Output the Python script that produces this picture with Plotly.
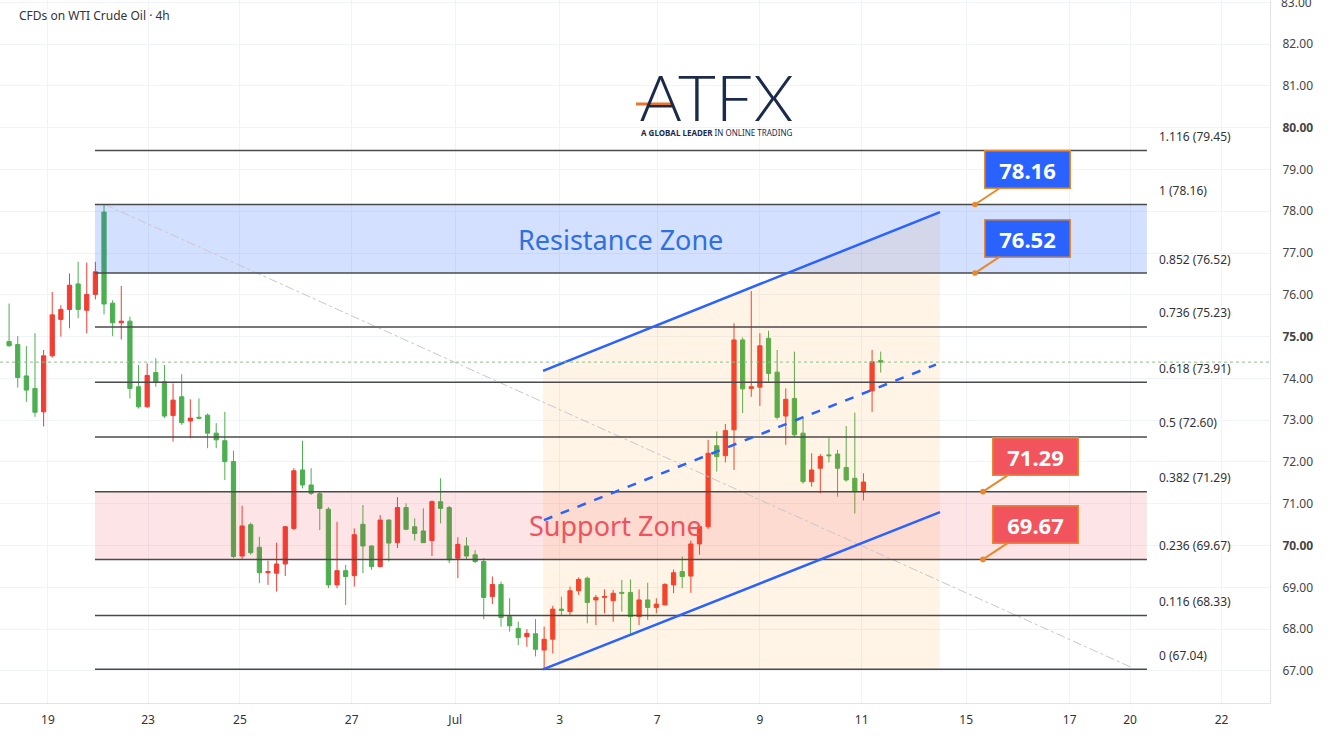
import plotly.graph_objects as go

# ---------------- data ----------------
opens = [74.88, 74.81, 74.06, 73.76, 73.20, 74.54, 75.41, 75.65, 76.26, 75.63,
         76.01, 77.98, 75.80, 75.33, 75.37, 73.80, 73.32, 74.14, 73.92, 73.11,
         73.56, 72.98, 73.07, 73.12, 72.69, 72.51, 72.01, 69.75, 70.50, 69.96,
         69.35, 69.34, 69.56, 70.41, 71.81, 71.45, 71.24, 70.87, 69.06, 69.40,
         69.28, 70.51, 69.99, 69.50, 70.61, 70.07, 70.91, 70.45, 70.35, 70.12,
         71.05, 70.91, 69.70, 69.99, 69.78, 69.62, 68.78, 69.07, 68.30, 68.02,
         67.82, 67.89, 67.50, 67.76, 68.48, 68.42, 68.92, 69.22, 68.70, 68.76,
         68.68, 68.88, 68.88, 68.30, 68.70, 68.52, 68.58, 69.06, 69.38, 69.27,
         70.04, 70.45, 72.39, 72.15, 72.77, 74.92, 73.76, 73.79, 74.96, 74.15,
         73.10, 73.52, 72.69, 71.53, 71.85, 72.17, 72.19, 71.87, 71.61, 71.29,
         73.70, 74.43]
highs = [75.79, 75.01, 74.77, 75.08, 74.68, 76.07, 75.75, 76.51, 76.79, 76.77,
         76.79, 78.16, 75.87, 76.21, 75.48, 74.32, 74.36, 74.48, 74.32, 73.88,
         74.10, 73.50, 73.52, 73.16, 72.93, 73.20, 72.27, 70.95, 70.55, 70.21,
         69.64, 70.07, 70.47, 71.85, 72.51, 71.85, 71.29, 70.92, 70.57, 69.54,
         70.41, 70.97, 70.01, 70.73, 70.63, 71.16, 71.01, 70.65, 70.89, 71.08,
         71.61, 70.95, 70.20, 70.20, 69.89, 69.70, 69.26, 69.14, 68.74, 68.18,
         68.00, 68.24, 68.06, 68.56, 68.78, 69.02, 69.24, 69.26, 68.82, 68.95,
         68.94, 69.18, 69.19, 68.95, 69.11, 68.74, 69.10, 69.43, 69.74, 70.12,
         70.49, 72.53, 72.73, 72.91, 75.32, 74.98, 76.09, 75.08, 75.14, 74.68,
         73.76, 74.64, 73.09, 72.21, 72.19, 72.57, 72.29, 72.86, 73.18, 71.73,
         74.68, 74.64]
lows = [74.76, 73.78, 73.44, 73.08, 72.85, 74.50, 75.00, 75.20, 75.44, 75.08,
        75.89, 75.53, 75.01, 74.93, 73.52, 73.28, 73.30, 73.80, 73.05, 72.49,
        72.89, 72.57, 73.02, 72.33, 72.33, 71.57, 69.70, 69.66, 69.78, 69.10,
        69.06, 68.90, 69.27, 70.37, 71.37, 71.21, 70.37, 68.98, 68.98, 68.58,
        69.02, 69.34, 69.42, 69.48, 69.62, 69.94, 70.37, 70.12, 70.07, 69.75,
        70.53, 69.58, 69.22, 69.66, 69.58, 68.24, 68.60, 68.06, 67.94, 67.62,
        67.58, 67.35, 67.04, 67.42, 68.34, 68.34, 68.82, 68.14, 68.10, 68.38,
        68.18, 68.42, 67.89, 68.10, 68.22, 68.38, 68.58, 68.86, 68.98, 68.87,
        69.78, 70.40, 71.77, 71.99, 71.81, 73.17, 73.56, 73.34, 73.92, 73.02,
        72.41, 72.60, 71.48, 71.41, 71.25, 71.99, 71.17, 71.53, 70.77, 71.08,
        73.20, 74.14]
closes = [74.78, 74.02, 73.72, 73.19, 74.54, 75.52, 75.65, 76.23, 75.65, 76.01,
          76.55, 75.78, 75.33, 75.37, 73.76, 73.32, 74.07, 73.92, 73.10, 73.48,
          72.94, 73.05, 73.05, 72.69, 72.53, 72.01, 69.74, 70.47, 69.83, 69.35,
          69.38, 69.56, 70.45, 71.79, 71.45, 71.25, 70.89, 69.06, 69.40, 69.26,
          70.26, 69.99, 69.50, 70.61, 70.06, 70.91, 70.39, 70.29, 70.07, 71.05,
          70.89, 69.66, 70.03, 69.75, 69.62, 68.76, 69.07, 68.28, 68.08, 67.80,
          67.90, 67.52, 67.76, 68.48, 68.45, 68.92, 69.19, 68.64, 68.76, 68.78,
          68.86, 68.86, 68.30, 68.70, 68.52, 68.60, 69.07, 69.35, 69.26, 70.04,
          70.45, 72.21, 72.13, 72.75, 74.92, 73.75, 73.80, 74.78, 74.12, 73.07,
          73.50, 72.65, 71.53, 71.81, 72.13, 72.15, 71.85, 71.57, 71.29, 71.52,
          74.40, 74.39]

# time axis (bar-index positions of the day labels)
date_tick_pos = [4.5, 16.1, 26.75, 39.7, 51.7, 63.8, 75.1, 87.0, 98.8, 110.9, 122.9, 129.9, 140.5]
date_tick_text = ["19", "23", "25", "27", "Jul", "3", "7", "9", "11", "15", "17", "20", "22"]

price_ticks = list(range(67, 84))

# Fibonacci retracement
fib_ratios = ["0", "0.116", "0.236", "0.382", "0.5", "0.618", "0.736", "0.852", "1", "1.116"]
fib_levels = [67.04, 68.33, 69.67, 71.29, 72.60, 73.91, 75.23, 76.52, 78.16, 79.45]
fib_x = [9.95, 131.85]
fib_label_x = 133.0

# channel
channel_x = [61.87, 107.87]
channel_upper = [74.18, 77.98]
channel_lower = [67.04, 70.80]
channel_mid_x = [61.98, 107.4]
channel_mid = [70.61, 74.33]

# faint diagonal
diag_x = [11.1, 129.9]
diag_y = [78.16, 67.10]

# callouts
callout_values = [78.16, 76.52, 71.29, 69.67]
callout_x = [111.92, 111.92, 112.85, 112.85]
callout_colors = ["#2962FF", "#2962FF", "#F2545E", "#F2545E"]

zone_labels = ["Resistance Zone", "Support Zone"]
zone_label_x = [70.9, 70.3]
zone_label_y = [77.33, 70.49]

# ---------------- figure ----------------
RED = "#F23D32"
GREEN = "#4CAF50"
FONT = "Noto Sans"

fig = go.Figure()

# beige area under the upper channel line
fig.add_trace(go.Scatter(
    x=[channel_x[0], channel_x[1], channel_x[1], channel_x[0], channel_x[0]],
    y=[channel_upper[0], channel_upper[1], fib_levels[0], fib_levels[0], channel_upper[0]],
    fill="toself", fillcolor="rgba(255,152,0,0.10)", line=dict(width=0),
    mode="lines", hoverinfo="skip", showlegend=False))

# resistance zone (0.852 - 1) and support zone (0.236 - 0.382)
fig.add_trace(go.Scatter(
    x=[fib_x[0], fib_x[1], fib_x[1], fib_x[0], fib_x[0]],
    y=[fib_levels[7], fib_levels[7], fib_levels[8], fib_levels[8], fib_levels[7]],
    fill="toself", fillcolor="rgba(41,98,255,0.20)", line=dict(width=0),
    mode="lines", hoverinfo="skip", showlegend=False))
fig.add_trace(go.Scatter(
    x=[fib_x[0], fib_x[1], fib_x[1], fib_x[0], fib_x[0]],
    y=[fib_levels[2], fib_levels[2], fib_levels[3], fib_levels[3], fib_levels[2]],
    fill="toself", fillcolor="rgba(242,54,69,0.13)", line=dict(width=0),
    mode="lines", hoverinfo="skip", showlegend=False))

# diagonal dotted guide
fig.add_trace(go.Scatter(x=diag_x, y=diag_y, mode="lines",
                         line=dict(color="#C8C8C8", width=1, dash="dashdot"),
                         hoverinfo="skip", showlegend=False))

# fib level lines
fx, fy = [], []
for lv in fib_levels:
    fx += [fib_x[0], fib_x[1], None]
    fy += [lv, lv, None]
fig.add_trace(go.Scatter(x=fx, y=fy, mode="lines", line=dict(color="#4A4A4A", width=1.5),
                         hoverinfo="skip", showlegend=False))

# current price dotted line
fig.add_shape(type="line", xref="paper", x0=0, x1=1, yref="y", y0=closes[-1], y1=closes[-1],
              line=dict(color="#8DBE8D", width=1, dash="dot"))

# candles (red = up, green = down)
fig.add_trace(go.Candlestick(
    x=list(range(len(opens))), open=opens, high=highs, low=lows, close=closes,
    increasing=dict(line=dict(color=RED, width=1), fillcolor=RED),
    decreasing=dict(line=dict(color=GREEN, width=1), fillcolor=GREEN),
    whiskerwidth=0, showlegend=False))

# channel lines
fig.add_trace(go.Scatter(x=channel_x, y=channel_upper, mode="lines",
                         line=dict(color="#2962FF", width=2.5), hoverinfo="skip", showlegend=False))
fig.add_trace(go.Scatter(x=channel_x, y=channel_lower, mode="lines",
                         line=dict(color="#2962FF", width=2.5), hoverinfo="skip", showlegend=False))
fig.add_trace(go.Scatter(x=channel_mid_x, y=channel_mid, mode="lines",
                         line=dict(color="#2962FF", width=2.5, dash="dash"), hoverinfo="skip", showlegend=False))

annotations = []
# fib labels
for r, lv in zip(fib_ratios, fib_levels):
    annotations.append(dict(x=fib_label_x, y=lv, xref="x", yref="y", text=f"{r} ({lv:.2f})",
                            showarrow=False, xanchor="left", yanchor="middle", yshift=14,
                            font=dict(family=FONT, size=12, color="#333333")))
# zone labels
for t, zx, zy, c in zip(zone_labels, zone_label_x, zone_label_y, ["#2F6FE0", "#F0525E"]):
    annotations.append(dict(x=zx, y=zy, xref="x", yref="y", text=t, showarrow=False,
                            font=dict(family=FONT, size=27, color=c)))
# callouts
for v, cx, col in zip(callout_values, callout_x, callout_colors):
    annotations.append(dict(x=cx, y=v, xref="x", yref="y", text=f"<b>{v:.2f}</b>",
                            showarrow=True, ax=53, ay=-35, arrowhead=6, arrowsize=0.7,
                            arrowwidth=2, arrowcolor="#E8892B",
                            bgcolor=col, bordercolor="#E8892B", borderwidth=1.5, borderpad=5,
                            width=74, height=26,
                            font=dict(family=FONT, size=22, color="white")))
# top price label that is cut by the chart edge
annotations.append(dict(x=1, y=price_ticks[-1], xref="paper", yref="y", text=f"{price_ticks[-1]:.2f}",
                        showarrow=False, xanchor="left", yanchor="middle", xshift=9,
                        font=dict(family=FONT, size=12, color="#444444")))
# title
annotations.append(dict(x=17 / 1270, y=1 - 15 / 703, xref="paper", yref="paper",
                        text="CFDs on WTI Crude Oil · 4h", showarrow=False,
                        xanchor="left", yanchor="middle",
                        font=dict(family=FONT, size=12, color="#333333")))
# logo
annotations.append(dict(x=716 / 1270, y=1 - 96 / 703, xref="paper", yref="paper",
                        text="ATFX", showarrow=False, xanchor="center", yanchor="middle",
                        height=50, valign="middle",
                        font=dict(family="Lato", size=66, color="#1B2A4A", weight=300)))
annotations.append(dict(x=716 / 1270, y=1 - 132 / 703, xref="paper", yref="paper",
                        text="<b>A GLOBAL LEADER</b> IN ONLINE TRADING", showarrow=False,
                        xanchor="center", yanchor="middle",
                        font=dict(family=FONT, size=8, color="#1B2A4A")))

fig.add_shape(type="line", xref="paper", yref="paper",
              x0=636 / 1270, x1=672 / 1270, y0=1 - 104 / 703, y1=1 - 104 / 703,
              line=dict(color="#E8772E", width=3))

price_text = [(f"<b>{v:.2f}</b>" if v % 5 == 0 else f"{v:.2f}") for v in price_ticks]

fig.update_layout(
    width=1332, height=747,
    margin=dict(l=0, r=62, t=0, b=44),
    paper_bgcolor="white", plot_bgcolor="white",
    annotations=annotations,
    showlegend=False,
    xaxis=dict(range=[-1.054, 146.11], tickvals=date_tick_pos, ticktext=date_tick_text,
               showgrid=True, gridcolor="#F0F3FA", zeroline=False, rangeslider=dict(visible=False),
               showline=True, linecolor="#E0E3EB", ticks="", ticklabelstandoff=6,
               tickfont=dict(family=FONT, size=12, color="#333333")),
    yaxis=dict(range=[66.234, 83.053], side="right", tickvals=price_ticks, ticktext=price_text,
               showgrid=True, gridcolor="#F0F3FA", zeroline=False,
               showline=True, linecolor="#E0E3EB", ticks="", ticklabelstandoff=9,
               tickfont=dict(family=FONT, size=12, color="#444444")),
)

fig.write_html("out.html", config={"displayModeBar": False},
               post_script="document.body.style.margin='0';document.body.style.padding='0';")
